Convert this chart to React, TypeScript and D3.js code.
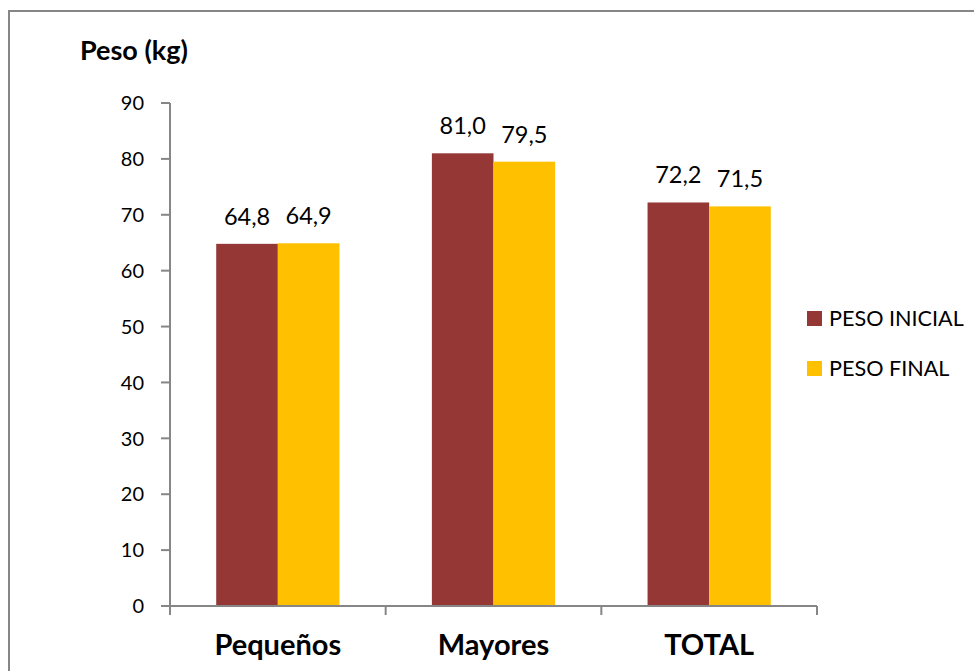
import React from "react";
import * as d3 from "d3";

const categories = ["Pequeños", "Mayores", "TOTAL"];
const seriesNames = ["PESO INICIAL", "PESO FINAL"];
const pesoInicial = [64.8, 81.0, 72.2];
const pesoFinal = [64.9, 79.5, 71.5];
const yTicks = [0, 10, 20, 30, 40, 50, 60, 70, 80, 90];
const colors = ["#953735", "#FFC000"];

const W = 974;
const H = 671;
const FONT = "Lato, 'Open Sans', sans-serif";

export default function App() {
  const left = 170;
  const right = 817;
  const top = 103;
  const bottom = 606;

  const y = d3.scaleLinear().domain([0, 90]).range([bottom, top]);
  const x0 = d3.scaleBand<string>().domain(categories).range([left, right]).padding(0);
  const bw = x0.bandwidth();
  const barW = bw / 3.5;
  const gap = (bw - 2 * barW) / 2;
  const x1 = d3.scaleBand<string>().domain(seriesNames).range([gap, bw - gap]).padding(0);
  const data = [pesoInicial, pesoFinal];
  const fmt = (v: number) => d3.format(".1f")(v).replace(".", ",");

  const axisColor = "#868686";

  return (
    <svg width={W} height={H} style={{ position: "absolute", left: 0, top: 0, background: "#fff" }} fontFamily={FONT}>
      <rect x={0} y={0} width={W} height={H} fill="#fff" />
      <rect x={9} y={11} width={W + 20} height={H + 20} fill="none" stroke={axisColor} strokeWidth={2} />

      {/* Y axis title */}
      <text x={80} y={60} fontSize={27} fontWeight={700} fill="#000">Peso (kg)</text>

      {/* Bars */}
      {seriesNames.map((s, si) =>
        categories.map((c, ci) => {
          const v = data[si][ci];
          const bx = (x0(c) ?? 0) + (x1(s) ?? 0);
          return (
            <rect key={s + c} x={bx} y={y(v)} width={x1.bandwidth()} height={bottom - y(v)} fill={colors[si]} />
          );
        })
      )}

      {/* Value labels */}
      {seriesNames.map((s, si) =>
        categories.map((c, ci) => {
          const v = data[si][ci];
          const cx = (x0(c) ?? 0) + (x1(s) ?? 0) + x1.bandwidth() / 2;
          return (
            <text key={"l" + s + c} x={cx} y={y(v) - 19} textAnchor="middle" fontSize={23.5} fill="#000">
              {fmt(v)}
            </text>
          );
        })
      )}

      {/* Y axis */}
      <line x1={left} x2={left} y1={top} y2={bottom} stroke={axisColor} strokeWidth={2} />
      {yTicks.map((t) => (
        <g key={"t" + t}>
          <line x1={161} x2={left} y1={y(t)} y2={y(t)} stroke={axisColor} strokeWidth={2} />
          <text x={144} y={y(t)} dy="0.36em" textAnchor="end" fontSize={20} fill="#000">
            {t}
          </text>
        </g>
      ))}

      {/* X axis */}
      <line x1={left - 9} x2={right} y1={bottom} y2={bottom} stroke={axisColor} strokeWidth={2} />
      {[...categories.map((c) => x0(c) ?? 0), right].map((px, i) => (
        <line key={"xt" + i} x1={px} x2={px} y1={bottom} y2={bottom + 9} stroke={axisColor} strokeWidth={2} />
      ))}
      {categories.map((c) => (
        <text key={"c" + c} x={(x0(c) ?? 0) + bw / 2} y={655} textAnchor="middle" fontSize={29} fontWeight={700} fill="#000">
          {c}
        </text>
      ))}

      {/* Legend */}
      {seriesNames.map((s, i) => (
        <g key={"lg" + s} transform={`translate(807, ${311 + i * 50})`}>
          <rect x={0} y={0} width={15} height={15} fill={colors[i]} />
          <text x={22} y={15} fontSize={21.6} fill="#000">{s}</text>
        </g>
      ))}
    </svg>
  );
}
